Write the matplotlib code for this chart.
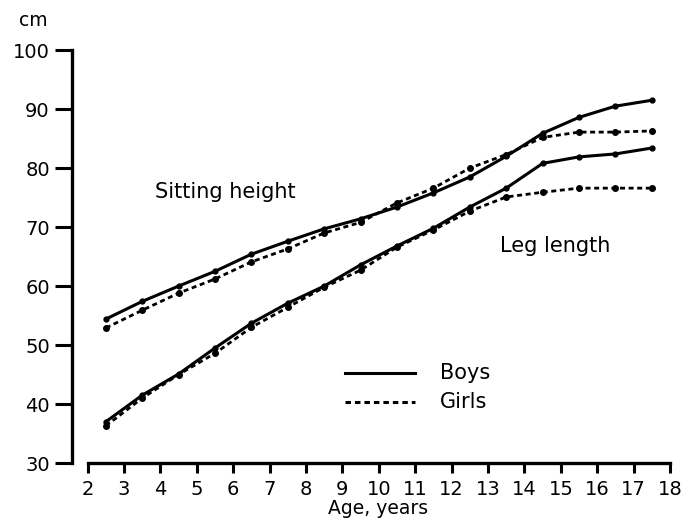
import matplotlib
matplotlib.use("Agg")
import matplotlib.pyplot as plt

plt.rcParams['font.family'] = ['DejaVu Sans']

ages = [2.5, 3.5, 4.5, 5.5, 6.5, 7.5, 8.5, 9.5, 10.5, 11.5, 12.5, 13.5, 14.5, 15.5, 16.5, 17.5]

sitting_boys = [54.4, 57.4, 60.0, 62.5, 65.4, 67.6, 69.7, 71.4, 73.4, 75.8, 78.5, 82.0, 85.9, 88.6, 90.5, 91.5]
sitting_girls = [52.9, 55.9, 58.8, 61.2, 64.1, 66.3, 69.0, 70.8, 74.1, 76.6, 80.0, 82.3, 85.2, 86.1, 86.1, 86.3]
leg_boys = [37.0, 41.5, 45.1, 49.5, 53.7, 57.1, 60.0, 63.6, 66.8, 69.8, 73.4, 76.6, 80.8, 81.9, 82.4, 83.4]
leg_girls = [36.3, 41.0, 45.0, 48.6, 53.0, 56.4, 59.8, 62.7, 66.6, 69.5, 72.7, 75.1, 75.9, 76.6, 76.6, 76.6]

x_ticks = list(range(2, 19))
y_ticks = [30, 40, 50, 60, 70, 80, 90, 100]

fig = plt.figure(figsize=(6.83, 5.22), dpi=100)
ax = fig.add_axes([0.1054, 0.113, 0.8756, 0.791])

solid = dict(color='black', lw=2.2, linestyle='-', marker='o', markersize=3.5)
dotted = dict(color='black', lw=2.0, linestyle=(0, (1.8, 1.3)), marker='o', markersize=4)

ax.plot(ages, sitting_boys, **solid)
ax.plot(ages, sitting_girls, **dotted)
ax.plot(ages, leg_boys, **solid)
ax.plot(ages, leg_girls, **dotted)

ax.set_xlim(1.57, 18.0)
ax.set_ylim(30, 100)
ax.set_xticks(x_ticks)
ax.set_yticks(y_ticks)

for s in ['top', 'right']:
    ax.spines[s].set_visible(False)
ax.spines['left'].set_bounds(30, 100)
ax.spines['bottom'].set_bounds(2, 18)
ax.spines['left'].set_linewidth(2.4)
ax.spines['bottom'].set_linewidth(2.4)

ax.tick_params(axis='y', direction='out', length=12, width=2.2, pad=4, labelsize=14)
ax.tick_params(axis='x', direction='out', length=7, width=2.2, pad=5, labelsize=14)

fig.text(33 / 683, 1 - 20 / 522, 'cm', ha='center', va='center', fontsize=13.5)
fig.text(378 / 683, 1 - 508 / 522, 'Age, years', ha='center', va='center', fontsize=13.5)

ax.text(3.85, 76.0, 'Sitting height', ha='left', va='center', fontsize=15)
ax.text(13.33, 66.8, 'Leg length', ha='left', va='center', fontsize=15)

# legend drawn as sample strokes with labels
ax.plot([9.07, 10.99], [45.2, 45.2], color='black', lw=2.2, linestyle='-')
ax.plot([9.07, 10.99], [40.3, 40.3], color='black', lw=2.2, linestyle=(0, (1.8, 1.3)))
ax.text(11.68, 45.2, 'Boys', ha='left', va='center', fontsize=15)
ax.text(11.68, 40.3, 'Girls', ha='left', va='center', fontsize=15)

fig.savefig('out.png', dpi=100, facecolor='white')
